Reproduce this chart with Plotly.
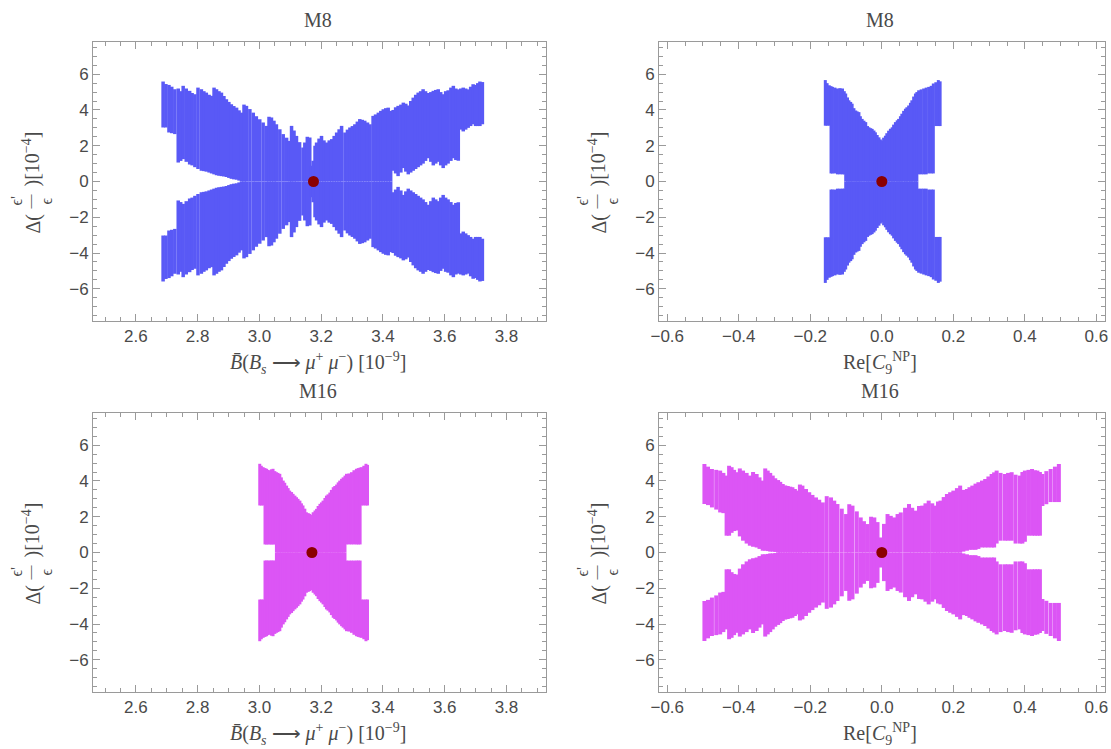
import plotly.graph_objects as go

# ---------------- data ----------------
# Each column: x position, upper edge of the band (|y| max) and inner edge (|y| min); band is mirrored below y=0
# Panel 1: M8, B(Bs->mu mu)
tl_x = [2.688, 2.697, 2.707, 2.716, 2.726, 2.737, 2.745, 2.753, 2.763, 2.774, 2.782, 2.791, 2.801, 2.812, 2.820,
        2.828, 2.837, 2.845, 2.853, 2.861, 2.869, 2.877, 2.885, 2.893, 2.901, 2.909, 2.917, 2.926, 2.934, 2.942,
        2.950, 2.958, 2.969, 2.980, 2.990, 3.001, 3.012, 3.023, 3.031, 3.039, 3.047, 3.055, 3.066, 3.077, 3.088,
        3.098, 3.104, 3.112, 3.120, 3.130, 3.141, 3.147, 3.155, 3.163, 3.169, 3.174, 3.180, 3.185, 3.193, 3.201,
        3.209, 3.217, 3.226, 3.234, 3.242, 3.250, 3.258, 3.266, 3.277, 3.285, 3.293, 3.301, 3.309, 3.317, 3.325,
        3.333, 3.341, 3.350, 3.358, 3.368, 3.376, 3.385, 3.393, 3.401, 3.409, 3.417, 3.425, 3.433, 3.441, 3.449,
        3.458, 3.466, 3.474, 3.482, 3.490, 3.498, 3.506, 3.514, 3.522, 3.530, 3.538, 3.547, 3.555, 3.563, 3.571,
        3.579, 3.587, 3.595, 3.603, 3.611, 3.620, 3.628, 3.636, 3.644, 3.652, 3.660, 3.668, 3.676, 3.684, 3.692,
        3.700, 3.707, 3.714, 3.722]
tl_top = [5.59, 5.45, 5.40, 5.30, 5.16, 5.20, 5.05, 5.35, 5.20, 5.07, 4.95, 4.88, 5.25, 5.16, 5.05,
          4.97, 4.85, 4.79, 5.25, 5.16, 5.05, 4.97, 4.78, 4.60, 4.45, 4.32, 4.22, 4.13, 3.98, 3.85,
          4.30, 4.23, 4.05, 3.85, 3.65, 3.48, 3.30, 3.11, 3.62, 3.58, 3.40, 3.20, 2.92, 2.65, 2.45,
          2.27, 3.11, 2.85, 2.55, 2.20, 1.90, 2.18, 2.50, 2.46, 0.88, 1.16, 2.00, 2.18, 2.40, 2.55,
          2.30, 2.18, 2.30, 2.37, 2.55, 2.74, 2.92, 3.11, 2.74, 2.90, 3.02, 3.10, 3.20, 3.35, 3.49,
          3.45, 3.40, 3.30, 3.20, 3.67, 3.75, 3.85, 3.95, 4.04, 4.10, 4.13, 3.95, 4.00, 4.15, 4.23,
          4.30, 4.41, 4.35, 4.25, 4.50, 4.69, 4.85, 4.97, 5.05, 5.16, 5.05, 4.95, 5.00, 5.07, 5.12,
          5.16, 5.00, 4.88, 5.05, 5.10, 5.25, 5.35, 5.20, 5.15, 5.20, 5.25, 5.20, 5.15, 5.30, 5.44,
          5.40, 5.50, 5.59, 5.56]
tl_inner = [3.02, 3.02, 2.74, 2.70, 2.65, 1.06, 1.15, 1.25, 1.10, 0.95, 0.90, 0.80, 0.70, 0.60, 0.58,
            0.55, 0.50, 0.45, 0.40, 0.35, 0.32, 0.30, 0.28, 0.25, 0.20, 0.15, 0.12, 0.10, 0.05, 0.0,
            0.0, 0.0, 0.0, 0.0, 0.0, 0.0, 0.0, 0.0, 0.0, 0.0, 0.0, 0.0, 0.0, 0.0, 0.0,
            0.0, 0.0, 0.0, 0.0, 0.0, 0.0, 0.0, 0.0, 0.0, 0.0, 0.0, 0.0, 0.0, 0.0, 0.0,
            0.0, 0.0, 0.0, 0.0, 0.0, 0.0, 0.0, 0.0, 0.0, 0.0, 0.0, 0.0, 0.0, 0.0, 0.0,
            0.0, 0.0, 0.0, 0.0, 0.0, 0.0, 0.0, 0.0, 0.0, 0.0, 0.0, 0.0, 0.60, 0.45, 0.30,
            0.50, 0.75, 0.55, 0.40, 0.50, 0.60, 0.70, 0.80, 0.90, 1.00, 1.15, 1.30, 1.10, 0.90, 1.00,
            1.10, 0.90, 0.75, 0.90, 1.00, 1.15, 1.30, 1.20, 1.16, 2.90, 2.80, 2.90, 3.00, 3.10, 3.20,
            3.10, 3.10, 3.10, 3.20]

# Panel 2: M8, Re[C9^NP]
tr_x = [-0.158, -0.153, -0.147, -0.142, -0.138, -0.131, -0.124, -0.117, -0.110, -0.105, -0.101, -0.096, -0.092,
        -0.087, -0.083, -0.078, -0.073, -0.069, -0.064, -0.060, -0.055, -0.050, -0.045, -0.040, -0.036, -0.031,
        -0.027, -0.022, -0.018, -0.013, -0.008, -0.004, 0.001, 0.005, 0.010, 0.014, 0.019, 0.024, 0.029, 0.033,
        0.038, 0.043, 0.047, 0.052, 0.056, 0.061, 0.066, 0.070, 0.075, 0.080, 0.084, 0.089, 0.094, 0.098, 0.103,
        0.110, 0.117, 0.124, 0.131, 0.138, 0.144, 0.151, 0.158, 0.163]
tr_top = [5.67, 5.50, 5.38, 5.33, 5.29, 5.25, 5.20, 5.22, 5.20, 5.05, 4.92, 4.70, 4.54,
          4.45, 4.35, 4.10, 3.97, 3.92, 3.88, 3.65, 3.50, 3.40, 3.32, 3.10, 3.03, 2.98,
          2.94, 2.85, 2.75, 2.60, 2.47, 2.35, 2.28, 2.45, 2.56, 2.70, 2.84, 2.95, 3.03, 3.18,
          3.32, 3.42, 3.50, 3.65, 3.79, 3.95, 4.07, 4.15, 4.25, 4.40, 4.54, 4.75, 4.92, 5.00, 5.10,
          5.15, 5.20, 5.25, 5.29, 5.35, 5.48, 5.55, 5.67, 5.60]
tr_inner = [3.12, 3.12, 3.12, 0.45, 0.45, 0.45, 0.40, 0.40, 0.40, 0.40, 0.0, 0.0, 0.0,
            0.0, 0.0, 0.0, 0.0, 0.0, 0.0, 0.0, 0.0, 0.0, 0.0, 0.0, 0.0, 0.0,
            0.0, 0.0, 0.0, 0.0, 0.0, 0.0, 0.0, 0.0, 0.0, 0.0, 0.0, 0.0, 0.0, 0.0,
            0.0, 0.0, 0.0, 0.0, 0.0, 0.0, 0.0, 0.0, 0.0, 0.0, 0.0, 0.0, 0.0, 0.0, 0.40,
            0.40, 0.40, 0.40, 0.45, 0.45, 0.45, 3.10, 3.10, 3.10]

# Panel 3: M16, B(Bs->mu mu)
bl_x = [3.001, 3.006, 3.012, 3.018, 3.023, 3.028, 3.034, 3.039, 3.044, 3.050, 3.055, 3.060, 3.066, 3.071,
        3.077, 3.082, 3.088, 3.093, 3.098, 3.104, 3.109, 3.115, 3.120, 3.125, 3.131, 3.136, 3.141, 3.147,
        3.152, 3.158, 3.163, 3.169, 3.174, 3.180, 3.185, 3.190, 3.196, 3.201, 3.206, 3.212, 3.217, 3.222,
        3.228, 3.233, 3.239, 3.244, 3.250, 3.255, 3.260, 3.266, 3.271, 3.277, 3.282, 3.290, 3.298, 3.306,
        3.314, 3.320, 3.326, 3.331, 3.338, 3.345, 3.350]
bl_top = [4.96, 4.85, 4.77, 4.72, 4.68, 4.62, 4.59, 4.65, 4.68, 4.55, 4.49, 4.45, 4.40, 4.20,
          4.02, 3.90, 3.74, 3.60, 3.46, 3.38, 3.28, 3.18, 3.09, 3.00, 2.90, 2.75, 2.63, 2.45,
          2.25, 2.20, 2.16, 2.10, 2.25, 2.35, 2.44, 2.60, 2.72, 2.80, 2.90, 3.05, 3.18, 3.25,
          3.35, 3.50, 3.65, 3.72, 3.80, 3.92, 4.02, 4.12, 4.20, 4.30, 4.40, 4.42, 4.49, 4.60,
          4.68, 4.72, 4.75, 4.77, 4.85, 4.96, 4.90]
bl_inner = [2.63, 2.63, 2.63, 0.45, 0.45, 0.45, 0.45, 0.45, 0.45, 0.45, 0.0, 0.0, 0.0, 0.0,
            0.0, 0.0, 0.0, 0.0, 0.0, 0.0, 0.0, 0.0, 0.0, 0.0, 0.0, 0.0, 0.0, 0.0,
            0.0, 0.0, 0.0, 0.0, 0.0, 0.0, 0.0, 0.0, 0.0, 0.0, 0.0, 0.0, 0.0, 0.0,
            0.0, 0.0, 0.0, 0.0, 0.0, 0.0, 0.0, 0.0, 0.0, 0.0, 0.45, 0.45, 0.45, 0.45,
            0.45, 0.45, 0.45, 2.63, 2.63, 2.63, 2.63]

# Panel 4: M16, Re[C9^NP]
br_x = [-0.496, -0.486, -0.475, -0.463, -0.452, -0.443, -0.434, -0.427, -0.420, -0.413, -0.406, -0.397, -0.388,
        -0.378, -0.369, -0.360, -0.350, -0.342, -0.333, -0.326, -0.319, -0.312, -0.305, -0.298, -0.290, -0.284,
        -0.277, -0.270, -0.263, -0.256, -0.250, -0.243, -0.236, -0.229, -0.222, -0.212, -0.203, -0.194, -0.184,
        -0.175, -0.165, -0.154, -0.142, -0.133, -0.124, -0.112, -0.100, -0.091, -0.082, -0.070, -0.059, -0.050,
        -0.040, -0.030, -0.021, -0.012, -0.003, 0.006, 0.016, 0.025, 0.034, 0.044, 0.053, 0.065, 0.076, 0.085,
        0.094, 0.104, 0.113, 0.122, 0.131, 0.141, 0.150, 0.157, 0.164, 0.173, 0.182, 0.191, 0.200, 0.210,
        0.219, 0.228, 0.238, 0.245, 0.253, 0.262, 0.270, 0.280, 0.289, 0.298, 0.307, 0.314, 0.321, 0.332,
        0.344, 0.353, 0.363, 0.374, 0.386, 0.393, 0.400, 0.410, 0.420, 0.428, 0.435, 0.442, 0.449, 0.460,
        0.472, 0.484, 0.495]
br_top = [4.95, 4.80, 4.67, 4.62, 4.58, 4.45, 4.30, 4.85, 4.77, 4.62, 4.49, 4.70, 4.58,
          4.45, 4.30, 4.50, 4.39, 4.20, 4.02, 4.70, 4.58, 4.45, 4.30, 4.15, 4.05, 3.95,
          3.83, 3.75, 3.72, 3.68, 3.65, 3.55, 3.46, 3.80, 3.74, 3.55, 3.37, 3.22, 3.08,
          2.95, 2.80, 3.15, 3.08, 2.90, 2.71, 2.45, 2.15, 2.70, 2.62, 2.30, 1.96, 1.75,
          1.59, 2.00, 1.96, 1.70, 0.84, 1.60, 2.15, 2.05, 1.96, 2.15, 2.24, 2.50, 2.71, 2.50,
          2.34, 2.60, 2.62, 2.75, 2.90, 2.75, 2.62, 2.85, 2.90, 3.10, 3.27, 3.37, 3.46, 3.60,
          3.74, 3.50, 3.55, 3.65, 3.74, 3.85, 3.93, 4.02, 4.11, 4.25, 4.39, 4.48, 4.58, 4.45,
          4.39, 4.45, 4.49, 4.35, 4.30, 4.50, 4.58, 4.62, 4.67, 4.60, 4.58, 4.50, 4.39, 4.55,
          4.67, 4.80, 4.95]
br_inner = [2.71, 2.65, 2.52, 2.40, 2.24, 2.20, 0.94, 0.94, 1.10, 1.20, 1.23, 0.90, 0.66,
            0.50, 0.38, 0.32, 0.28, 0.20, 0.10, 0.10, 0.08, 0.05, 0.05, 0.03, 0.0, 0.0,
            0.0, 0.0, 0.0, 0.0, 0.0, 0.0, 0.0, 0.0, 0.0, 0.0, 0.0, 0.0, 0.0,
            0.0, 0.0, 0.0, 0.0, 0.0, 0.0, 0.0, 0.0, 0.0, 0.0, 0.0, 0.0, 0.0,
            0.0, 0.0, 0.0, 0.0, 0.0, 0.0, 0.0, 0.0, 0.0, 0.0, 0.0, 0.0, 0.0, 0.0,
            0.0, 0.0, 0.0, 0.0, 0.0, 0.0, 0.0, 0.0, 0.0, 0.0, 0.0, 0.0, 0.0, 0.0,
            0.0, 0.05, 0.10, 0.15, 0.15, 0.15, 0.20, 0.28, 0.28, 0.28, 0.28, 0.28, 0.50, 0.66,
            0.66, 0.66, 0.66, 0.50, 0.50, 0.50, 0.60, 0.94, 0.94, 0.94, 0.94, 0.94, 2.60, 2.70,
            2.82, 2.82, 2.82]

# Standard-model reference point in each panel (x, y)
sm_points = [(3.175, 0.0), (0.0, 0.0), (3.17, 0.0), (0.0, 0.0)]

titles = ["M8", "M8", "M16", "M16"]
xtitle_b = "<i>B\u0304</i>(<i>B<sub>s</sub></i> \u27f6 <i>\u03bc</i><sup>+</sup> <i>\u03bc</i><sup>\u2212</sup>) [10<sup>\u22129</sup>]"
xtitle_c = "Re[<i>C</i><sub>9</sub><sup>NP</sup>]"
xtitles = [xtitle_b, xtitle_c, xtitle_b, xtitle_c]

BLUE = "#5959f6"
MAGENTA = "#dc55f5"
DOT = "#8b0000"
FRAME = "#9a9a9a"
TXT = "#4a4a4a"

W, H = 1111, 749


def px(x):
    return x / W


def py(y):
    return 1 - y / H


def bar_path(xs, tops, inners):
    X, Y = [], []
    for x, t, i in zip(xs, tops, inners):
        X += [x, x, None, x, x, None]
        Y += [i, t, None, -t, -i, None]
    return X, Y


# panel frames in pixels: (left, right, top, bottom)
frames = [(93, 546, 42, 321), (659, 1105, 42, 321), (93, 546, 413, 692), (659, 1105, 413, 692)]
xranges = [[2.461, 3.928], [-0.623, 0.624], [2.461, 3.928], [-0.623, 0.624]]
yrange = [-7.8, 7.8]
panels = [(tl_x, tl_top, tl_inner, BLUE, 3.5), (tr_x, tr_top, tr_inner, BLUE, 3.0),
          (bl_x, bl_top, bl_inner, MAGENTA, 3.0), (br_x, br_top, br_inner, MAGENTA, 4.0)]

serif = "Liberation Serif, Times New Roman, serif"

fig = go.Figure()
annotations = []


def note(text, x, y, size, angle=0, family=serif):
    annotations.append(dict(text=text, x=px(x), y=py(y), xref="paper", yref="paper",
                            xanchor="center", yanchor="middle", textangle=angle, showarrow=False,
                            font=dict(family=family, size=size, color=TXT)))


for k in range(4):
    xs, tops, inners, col, lw = panels[k]
    xa = "x" if k == 0 else f"x{k + 1}"
    ya = "y" if k == 0 else f"y{k + 1}"
    X, Y = bar_path(xs, tops, inners)
    fig.add_trace(go.Scatter(x=X, y=Y, mode="lines", line=dict(color=col, width=lw),
                             xaxis=xa, yaxis=ya, hoverinfo="skip", showlegend=False))
    fig.add_trace(go.Scatter(x=[sm_points[k][0]], y=[sm_points[k][1]], mode="markers",
                             marker=dict(color=DOT, size=11, line=dict(width=0)),
                             xaxis=xa, yaxis=ya, showlegend=False))
    l, r, t, b = frames[k]
    axis_common = dict(ticks="inside", ticklen=7, tickwidth=1, tickcolor=FRAME, showline=True,
                       linecolor=FRAME, linewidth=1, mirror="allticks", showgrid=False, zeroline=False,
                       automargin=False,
                       tickfont=dict(family="Liberation Sans, Arial, sans-serif", size=17, color=TXT))
    xkey = "xaxis" if k == 0 else f"xaxis{k + 1}"
    ykey = "yaxis" if k == 0 else f"yaxis{k + 1}"
    fig.layout[xkey] = dict(domain=[px(l), px(r)], anchor=ya, range=xranges[k], dtick=0.2, tick0=0,
                            tickformat=".1f",
                            minor=dict(ticks="inside", ticklen=4, dtick=0.05, tick0=0, tickcolor=FRAME,
                                       showgrid=False), **axis_common)
    fig.layout[ykey] = dict(domain=[py(b), py(t)], anchor=xa, range=yrange, dtick=2, tick0=0,
                            minor=dict(ticks="inside", ticklen=4, dtick=0.5, tick0=0, tickcolor=FRAME,
                                       showgrid=False), **axis_common)
    cx = (l + r) / 2 - 2
    # panel title
    note(titles[k], cx, t - 22, 20)
    # x-axis title
    note(xtitles[k], cx, b + 42, 20)
    # y-axis title, built as Δ( ε'/ε )[10^-4]
    yx = l - 60
    yc = (t + b) / 2
    note("\u0394(", yx, yc + 42, 20, -90)
    note("\u2014", yx - 3, yc + 20, 14, -90)
    note("\u03f5'", yx - 17, yc + 20, 16, -90)
    note("\u03f5", yx + 13, yc + 20, 16, -90)
    note(")[10<sup>\u22124</sup>]", yx - 2, yc - 22, 20, -90)

fig.update_layout(template="none", width=W, height=H, margin=dict(l=0, r=0, t=0, b=0),
                  plot_bgcolor="white", paper_bgcolor="white", showlegend=False, annotations=annotations)
fig.write_html("out.html", config={"displayModeBar": False},
               post_script="document.body.style.margin='0px';")
